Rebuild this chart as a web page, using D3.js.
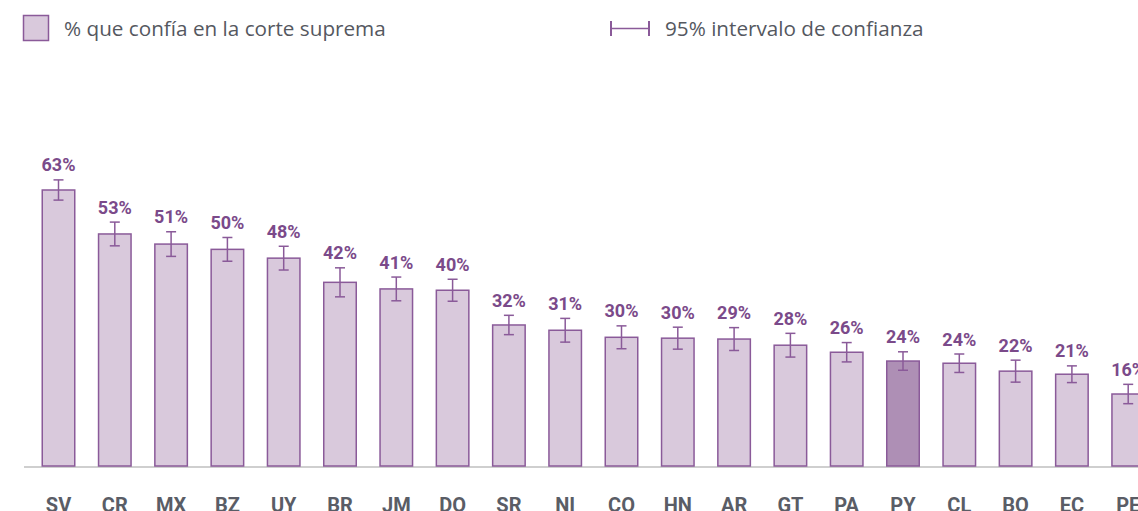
<!DOCTYPE html>
<html><head><meta charset="utf-8">
<script src="https://cdn.jsdelivr.net/npm/d3@7"></script>
<style>body{margin:0;background:#fff}svg{display:block}</style>
</head><body>
<svg id="c" width="1138" height="511"></svg>
<script>
const countries = ["SV","CR","MX","BZ","UY","BR","JM","DO","SR","NI","CO","HN","AR","GT","PA","PY","CL","BO","EC","PE"];
const values = [63.0,53.0,50.7,49.5,47.5,42.0,40.5,40.2,32.3,31.1,29.5,29.3,29.1,27.7,26.1,24.1,23.6,21.8,21.1,16.6];
const labels = ["63%","53%","51%","50%","48%","42%","41%","40%","32%","31%","30%","30%","29%","28%","26%","24%","24%","22%","21%","16%"];
const errors = [2.3,2.7,2.8,2.7,2.7,3.3,2.7,2.5,2.2,2.7,2.6,2.5,2.6,2.7,2.2,2.1,2.1,2.5,1.9,2.2];
const highlight = "PY";
const legendBar = "% que confía en la corte suprema";
const legendCI = "95% intervalo de confianza";

const svg = d3.select("#c");
const baseY = 467;
const y = d3.scaleLinear().domain([0, 63]).range([baseY, 190]);
const x = d3.scaleBand().domain(countries).range([30.35, 30.35 + 56.3*20]).paddingInner(0.396).paddingOuter(0.198);

const stroke = "#8a5a99", fill = "#d9c9dc", fillHi = "#ae8fb5", labelCol = "#7b4a8a";

svg.append("line").attr("x1", 24).attr("x2", 1138).attr("y1", baseY).attr("y2", baseY)
  .attr("stroke", "#cfcfcf").attr("stroke-width", 2);

const g = svg.append("g");
const data = countries.map((c,i)=>({c, v: values[i], l: labels[i], e: errors[i]}));

g.selectAll("rect.bar").data(data).join("rect")
  .attr("x", d => x(d.c)+0.75).attr("width", x.bandwidth()-1.5)
  .attr("y", d => y(d.v)).attr("height", d => baseY - 1 - y(d.v))
  .attr("fill", d => d.c===highlight ? fillHi : fill)
  .attr("stroke", stroke).attr("stroke-width", 1.5);

const cx = d => x(d.c) + x.bandwidth()/2;
const eb = g.selectAll("g.err").data(data).join("g");
eb.append("line").attr("x1", cx).attr("x2", cx).attr("y1", d=>y(d.v+d.e)).attr("y2", d=>y(d.v-d.e))
  .attr("stroke", stroke).attr("stroke-width", 1.5);
eb.append("line").attr("x1", d=>cx(d)-5).attr("x2", d=>cx(d)+5).attr("y1", d=>y(d.v+d.e)).attr("y2", d=>y(d.v+d.e))
  .attr("stroke", stroke).attr("stroke-width", 1.5);
eb.append("line").attr("x1", d=>cx(d)-5).attr("x2", d=>cx(d)+5).attr("y1", d=>y(d.v-d.e)).attr("y2", d=>y(d.v-d.e))
  .attr("stroke", stroke).attr("stroke-width", 1.5);

g.selectAll("text.val").data(data).join("text")
  .attr("x", cx).attr("y", d => y(d.v+d.e) - 8.5)
  .attr("text-anchor", "middle").attr("font-family", "Roboto").attr("font-weight", 700)
  .attr("font-size", 18).attr("fill", labelCol).text(d => d.l);

const ax = svg.append("g").attr("transform", `translate(0,${baseY})`)
  .call(d3.axisBottom(x).tickSize(0).tickPadding(0));
ax.select(".domain").remove();
ax.selectAll("text").attr("y", 44.5).attr("dy", 0)
  .attr("font-family", "Roboto").attr("font-weight", 700).attr("font-size", 20).attr("fill", "#5a5d66");

const lg = svg.append("g");
lg.append("rect").attr("x", 23.5).attr("y", 15.5).attr("width", 25).attr("height", 25)
  .attr("fill", fill).attr("stroke", stroke).attr("stroke-width", 1.5);
lg.append("text").attr("x", 64).attr("y", 36).attr("font-family", "Open Sans").attr("font-size", 20.7)
  .attr("fill", "#55585f").text(legendBar);
lg.append("line").attr("x1", 611).attr("x2", 649).attr("y1", 28.5).attr("y2", 28.5).attr("stroke", stroke).attr("stroke-width", 1.5);
lg.append("line").attr("x1", 611).attr("x2", 611).attr("y1", 21).attr("y2", 36).attr("stroke", stroke).attr("stroke-width", 2);
lg.append("line").attr("x1", 649).attr("x2", 649).attr("y1", 21).attr("y2", 36).attr("stroke", stroke).attr("stroke-width", 2);
lg.append("text").attr("x", 665).attr("y", 36).attr("font-family", "Open Sans").attr("font-size", 20.7)
  .attr("fill", "#55585f").text(legendCI);
</script>
</body></html>
